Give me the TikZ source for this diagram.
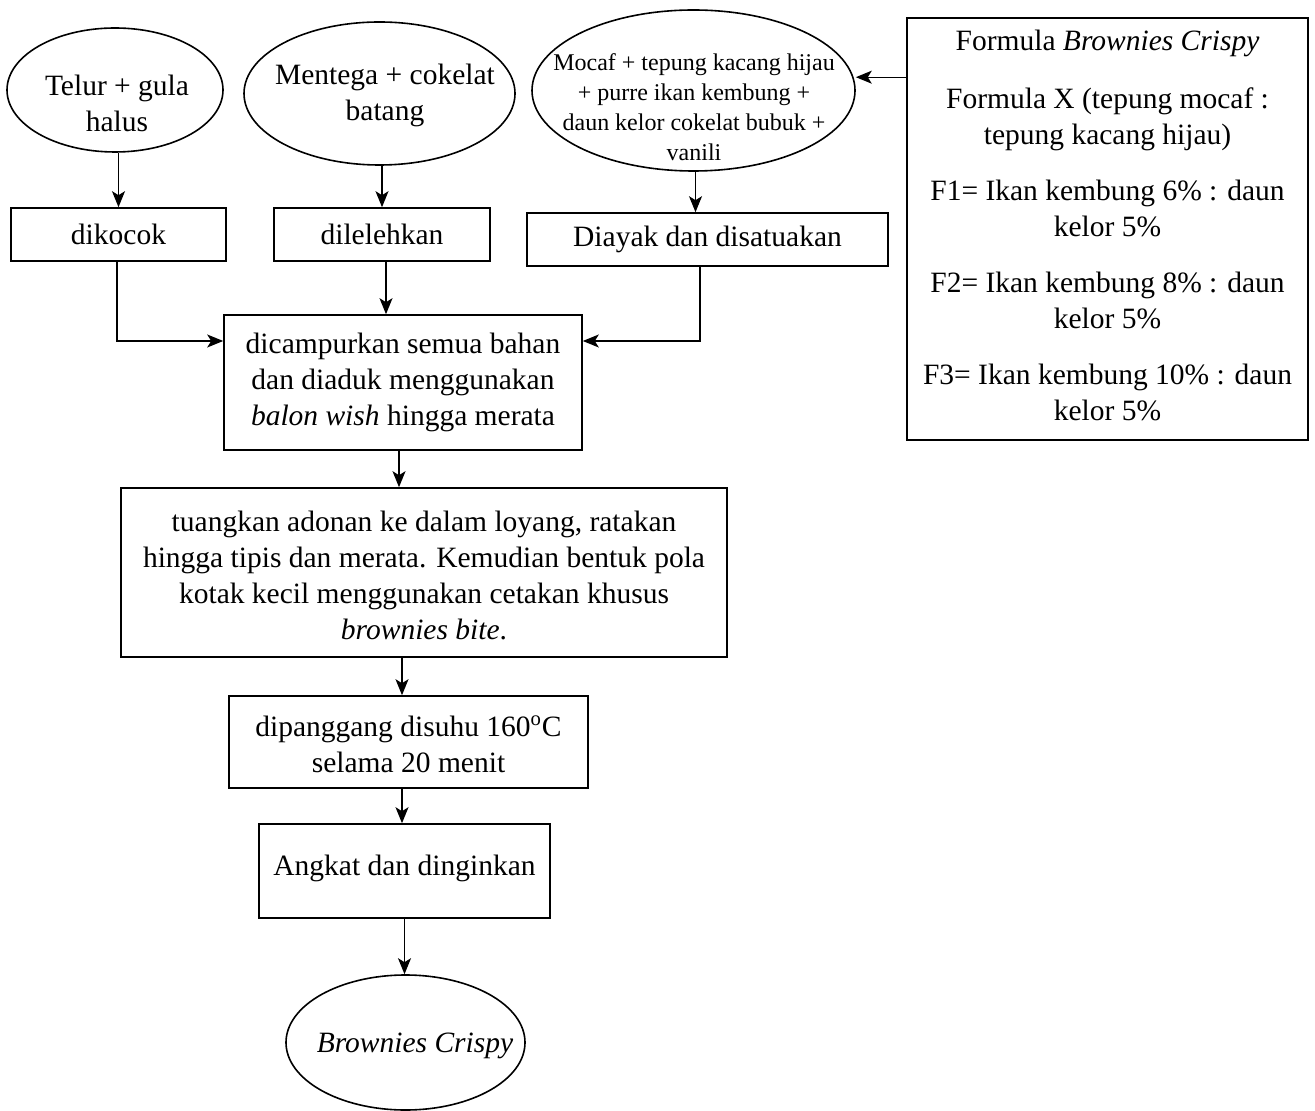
\documentclass[tikz,border=0pt]{standalone}
\usepackage{fontspec}
\setmainfont{Liberation Serif}
\usetikzlibrary{shapes.geometric,arrows.meta,calc}
\begin{document}
\begin{tikzpicture}[x=0.5pt,y=-0.5pt,
  every node/.style={font=\fontsize{14.75}{18}\selectfont, align=center, inner sep=0pt},
  box/.style={draw, line width=0.8pt, rectangle},
  oval/.style={draw, line width=0.8pt, ellipse, inner sep=0pt},
  small/.style={font=\fontsize{12}{15}\selectfont},
  arr/.style={line width=0.6pt, -{Stealth[length=8pt,width=6.5pt,inset=2pt]}}]
\useasboundingbox (0,0) rectangle (1315,1111);

% top ovals
\node[oval, minimum width=108pt, minimum height=62pt] (e1) at (115,90) {};
\node at (117,103) {Telur + gula\\halus};
\node[oval, minimum width=135.5pt, minimum height=71.5pt] (e2) at (379.5,93.5) {};
\node at (385,95.5) {Mentega + cokelat\\batang};
\node[oval, minimum width=161.5pt, minimum height=80.5pt] (e3) at (693.5,90.5) {};
\node[small] at (694,107) {Mocaf + tepung kacang hijau\\+ purre ikan kembung +\\daun kelor cokelat bubuk +\\vanili};

% formula box
\node[box, minimum width=200.5pt, minimum height=211pt] (F) at (1107.5,229) {};
\node at (1107.5,225)
  {Formula \textit{Brownies Crispy}\\[11pt]
   Formula X (tepung mocaf :\\tepung kacang hijau)\\[10pt]
   F1= Ikan kembung 6\% : daun\\kelor 5\%\\[10pt]
   F2= Ikan kembung 8\% : daun\\kelor 5\%\\[10pt]
   F3= Ikan kembung 10\% : daun\\kelor 5\%};
\coordinate (fa) at ($(F.north west)+(0,60)$);

% second row boxes
\node[box, minimum width=107.5pt, minimum height=26.5pt] (b1) at (118.5,234.5) {dikocok};
\node[box, minimum width=108pt, minimum height=26.5pt] (b2) at (382,234.5) {dilelehkan};
\node[box, minimum width=180.5pt, minimum height=26.5pt] (b3) at (707.5,239.5) {Diayak dan disatuakan};

% main column
\node[box, minimum width=179pt, minimum height=67.5pt] (b4) at (403,382.5)
  {dicampurkan semua bahan\\dan diaduk menggunakan\\\textit{balon wish} hingga merata};
\node[box, minimum width=303pt, minimum height=84.5pt] (b5) at (424,572.5) {};
\node at (424,575.5)
  {tuangkan adonan ke dalam loyang, ratakan\\hingga tipis dan merata. Kemudian bentuk pola\\kotak kecil menggunakan cetakan khusus\\\textit{brownies bite}.};
\node[box, minimum width=179.5pt, minimum height=46pt] (b6) at (408.5,742) {};
\node at (408.5,744) {dipanggang disuhu 160\textsuperscript{o}C\\selama 20 menit};
\node[box, minimum width=145.5pt, minimum height=47pt] (b7) at (404.5,871) {};
\node at (404.5,868.5) {Angkat dan dinginkan};
\node[oval, minimum width=119.5pt, minimum height=67.5pt] (e4) at (405.5,1042.5) {};
\node at (415,1046) {\textit{Brownies Crispy}};

% connectors
\draw[arr] (fa) -- (fa -| e3.east);
\draw[arr] (e1.south -| b1.north) -- (b1.north);
\draw[arr] (e2.south -| b2.north) -- (b2.north);
\draw[arr] ($(e3.south)+(2,0)$) -- ($(e3.south |- b3.north)+(2,0)$);
\draw[arr] ($(b1.south)+(-1.5,0)$) |- ($(b4.west)+(0,-41.5)$);
\draw[arr] ($(b3.south)+(-7.5,0)$) |- ($(b4.east)+(0,-41.5)$);
\draw[arr] ($(b2.south)+(4,0)$) -- ($(b2.south |- b4.north)+(4,0)$);
\draw[arr] ($(b4.south)+(-4,0)$) -- ($(b4.south |- b5.north)+(-4,0)$);
\draw[arr] ($(b6.north |- b5.south)+(-6.5,0)$) -- ($(b6.north)+(-6.5,0)$);
\draw[arr] ($(b7.north |- b6.south)+(-2.5,0)$) -- ($(b7.north)+(-2.5,0)$);
\draw[arr] (b7.south) -- (b7.south |- e4.north);
\end{tikzpicture}
\end{document}
